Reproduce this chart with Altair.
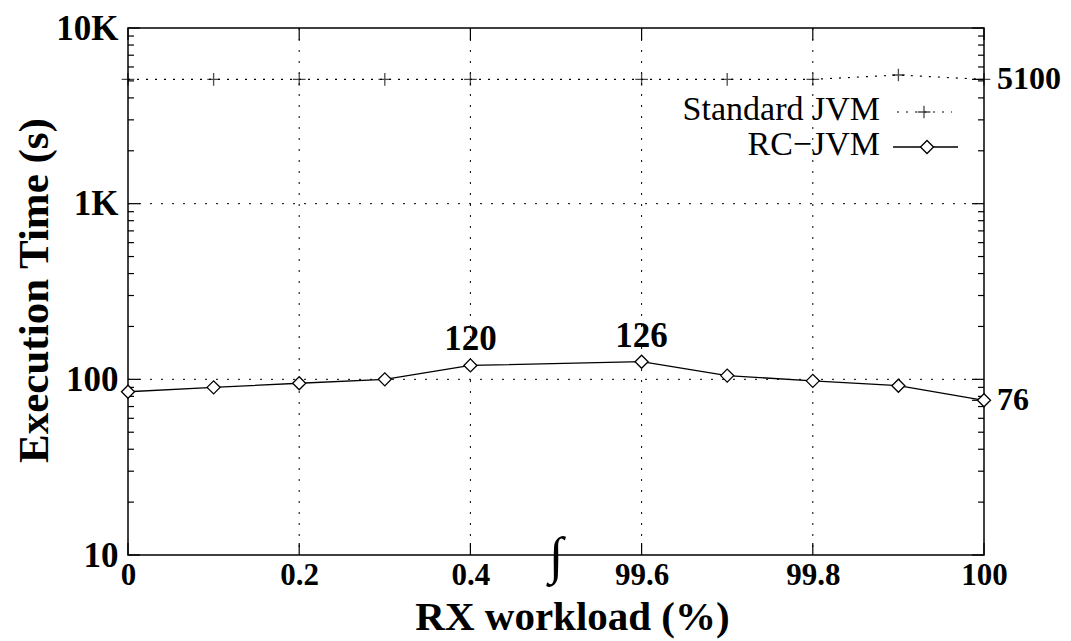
import altair as alt
import pandas as pd

# ---- data ----
x_index = [0, 1, 2, 3, 4, 6, 7, 8, 9, 10]
x_labels = ["0", "0.1", "0.2", "0.3", "0.4", "99.6", "99.7", "99.8", "99.9", "100"]
std_jvm = [5100, 5100, 5100, 5100, 5100, 5100, 5100, 5100, 5400, 5100]
rc_jvm = [85, 90, 95, 100, 120, 126, 105, 98, 92, 76]

tick_index = [0, 2, 4, 6, 8, 10]
tick_labels = ["0", "0.2", "0.4", "99.6", "99.8", "100"]
grid_index = [2, 4, 6, 8]

y_major = [10, 100, 1000, 10000]
y_major_labels = ["10", "100", "1K", "10K"]
y_minor = [20, 30, 40, 50, 60, 70, 80, 90,
           200, 300, 400, 500, 600, 700, 800, 900,
           2000, 3000, 4000, 5000, 6000, 7000, 8000, 9000]
right_values = [5100, 76]
right_labels = ["5100", "76"]

annot_index = [4, 6]
annot_values = [120, 126]
annot_labels = ["120", "126"]

break_index = [5]
break_value = [10]

legend_labels = ["Standard JVM", "RC\u2212JVM"]

W, H = 856, 527
FONT = "Liberation Serif"

std_df = pd.DataFrame({"idx": x_index, "label": x_labels, "value": std_jvm})
rc_df = pd.DataFrame({"idx": x_index, "label": x_labels, "value": rc_jvm})

xs = alt.Scale(domain=[0, 10], nice=False, zero=False)
ys = alt.Scale(type="log", domain=[10, 10000], nice=False)


def label_expr(vals, labs):
    expr = "''"
    for v, l in reversed(list(zip(vals, labs))):
        expr = f"datum.value == {v} ? '{l}' : ({expr})"
    return expr


x_axis = alt.Axis(values=tick_index, labelExpr=label_expr(tick_index, tick_labels),
                  grid=False, ticks=False, tickSize=0, domain=False,
                  labelFont=FONT, labelFontWeight="bold", labelFontSize=31,
                  labelColor="black", labelPadding=5, labelFlush=False,
                  labelOverlap=False, labelBound=False,
                  title="RX workload (%)", titleFont=FONT, titleFontWeight="bold",
                  titleFontSize=41, titleColor="black", titleX=444, titleY=74,
                  titleBaseline="alphabetic", titleAnchor="middle")
y_axis = alt.Axis(values=y_major, labelExpr=label_expr(y_major, y_major_labels),
                  grid=False, ticks=False, tickSize=0, domain=False,
                  labelFont=FONT, labelFontWeight="bold", labelFontSize=35,
                  labelColor="black", labelPadding=10, labelFlush=False,
                  labelOverlap=False, labelBound=False,
                  title="Execution Time (s)", titleFont=FONT, titleFontWeight="bold",
                  titleFontSize=43, titleColor="black", titleAngle=-90,
                  titleX=-81, titleY=262, titleBaseline="alphabetic", titleAnchor="middle")

X = alt.X("idx:Q", scale=xs, axis=x_axis)
Y = alt.Y("value:Q", scale=ys, axis=y_axis)

# grid lines
vgrid = alt.Chart(pd.DataFrame({"idx": grid_index})).mark_rule(
    color="black", strokeWidth=1, strokeDash=[2, 9]
).encode(x=alt.X("idx:Q", scale=xs), y=alt.value(0), y2=alt.value(H))
hgrid = alt.Chart(pd.DataFrame({"value": [100, 1000]})).mark_rule(
    color="black", strokeWidth=1, strokeDash=[2, 9]
).encode(y=alt.Y("value:Q", scale=ys), x=alt.value(0), x2=alt.value(W))


# inward ticks
def yticks(vals, x0, x1):
    return alt.Chart(pd.DataFrame({"value": vals})).mark_rule(
        color="black", strokeWidth=1.2
    ).encode(y=alt.Y("value:Q", scale=ys), x=alt.value(x0), x2=alt.value(x1))


def xticks(vals, y0, y1):
    return alt.Chart(pd.DataFrame({"idx": vals})).mark_rule(
        color="black", strokeWidth=1.2
    ).encode(x=alt.X("idx:Q", scale=xs), y=alt.value(y0), y2=alt.value(y1))


ticks = [
    yticks(y_major, 0, 12), yticks(y_minor, 0, 6),
    yticks(y_major + right_values, W - 12, W), yticks(y_minor, W - 6, W),
    xticks(tick_index, H - 12, H), xticks(tick_index, 0, 12),
]

# series
std_line = alt.Chart(std_df).mark_line(color="black", strokeWidth=1.2,
                                       strokeDash=[2, 7]).encode(x=X, y=Y, order="idx:Q")
std_pts = alt.Chart(std_df).mark_point(shape="M-1,0L1,0M0,-1L0,1", size=160,
                                       color="black", strokeWidth=1.3,
                                       filled=False).encode(x=X, y=Y)
rc_line = alt.Chart(rc_df).mark_line(color="black", strokeWidth=1.3).encode(
    x=X, y=Y, order="idx:Q")
rc_pts = alt.Chart(rc_df).mark_point(shape="diamond", size=170, color="black",
                                     fill="white", fillOpacity=1, filled=False,
                                     strokeWidth=1.3).encode(x=X, y=Y)

# annotations
annot = alt.Chart(pd.DataFrame({"idx": annot_index, "value": annot_values,
                                "text": annot_labels})).mark_text(
    font=FONT, fontWeight="bold", fontSize=35, baseline="bottom", dy=-8,
    color="black").encode(x=alt.X("idx:Q", scale=xs),
                          y=alt.Y("value:Q", scale=ys), text="text:N")

right_text = alt.Chart(pd.DataFrame({"value": right_values,
                                     "text": right_labels})).mark_text(
    font=FONT, fontWeight="bold", fontSize=32, align="left", baseline="middle",
    color="black").encode(x=alt.value(W + 13),
                          y=alt.Y("value:Q", scale=ys), text="text:N")

# axis break symbol
brk = alt.Chart(pd.DataFrame({"idx": break_index, "value": break_value})).mark_text(
    text="\u222b", font=FONT, fontSize=52, color="black", baseline="middle", dy=2
).encode(x=alt.X("idx:Q", scale=xs), y=alt.Y("value:Q", scale=ys))


# legend (drawn by hand, gnuplot style: text then sample)
def leg_text(label, ypix):
    return alt.Chart(pd.DataFrame({"label": [label]})).mark_text(
        font=FONT, fontSize=34, align="right", baseline="middle", color="black"
    ).encode(x=alt.value(752), y=alt.value(ypix), text="label:N")


leg_std_line = alt.Chart(pd.DataFrame({"label": [legend_labels[0]]})).mark_rule(
    color="black", strokeWidth=1.2, strokeDash=[2, 7]
).encode(x=alt.value(769), x2=alt.value(824), y=alt.value(84))
leg_std_pt = alt.Chart(pd.DataFrame({"label": [legend_labels[0]]})).mark_point(
    shape="M-1,0L1,0M0,-1L0,1", size=160, color="black", strokeWidth=1.3, filled=False
).encode(x=alt.value(796), y=alt.value(84))
leg_rc_line = alt.Chart(pd.DataFrame({"label": [legend_labels[1]]})).mark_rule(
    color="black", strokeWidth=1.3
).encode(x=alt.value(765), x2=alt.value(830), y=alt.value(119))
leg_rc_pt = alt.Chart(pd.DataFrame({"label": [legend_labels[1]]})).mark_point(
    shape="diamond", size=170, color="black", fill="white", fillOpacity=1,
    filled=False, strokeWidth=1.3
).encode(x=alt.value(799), y=alt.value(119))

base = alt.Chart(std_df).mark_point(opacity=0).encode(x=X, y=Y)

chart = alt.layer(
    base, vgrid, hgrid, *ticks, std_line, rc_line, std_pts, rc_pts, annot,
    right_text, brk,
    leg_text(legend_labels[0], 82), leg_text(legend_labels[1], 117),
    leg_std_line, leg_std_pt, leg_rc_line, leg_rc_pt
).properties(
    width=W, height=H,
    autosize=alt.AutoSizeParams(type="none"),
    padding={"left": 120, "top": 20, "right": 79, "bottom": 86},
    background="white",
).configure_view(stroke="black", strokeWidth=1.5)

chart.save("out.html", embed_options={"renderer": "svg", "actions": False})
